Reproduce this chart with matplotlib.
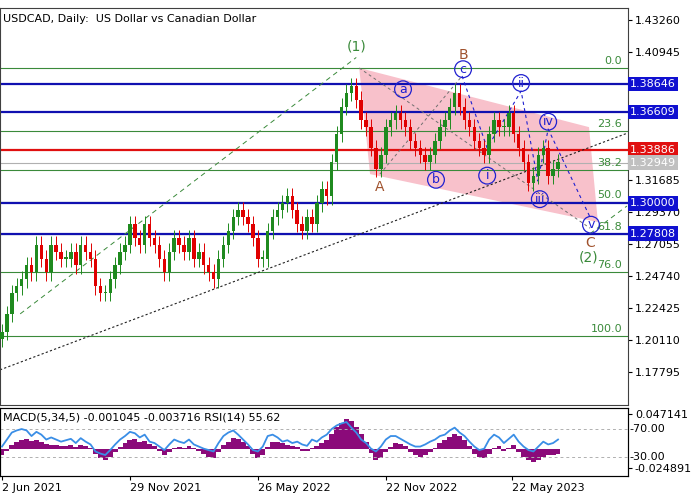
import matplotlib
matplotlib.use("Agg")
import matplotlib.pyplot as plt
from matplotlib.patches import Polygon

plt.rcParams.update({"font.family": "DejaVu Sans", "font.size": 8})

# weekly closes, Jun 2021 .. Jul 2023
closes = [1.207, 1.22, 1.235, 1.24, 1.245, 1.255, 1.25, 1.27, 1.26, 1.25,
          1.27, 1.265, 1.26, 1.26, 1.265, 1.255, 1.27, 1.265, 1.26, 1.24,
          1.235, 1.235, 1.245, 1.255, 1.265, 1.27, 1.285, 1.275, 1.27, 1.285,
          1.275, 1.27, 1.26, 1.25, 1.265, 1.275, 1.27, 1.265, 1.275, 1.26,
          1.265, 1.255, 1.25, 1.245, 1.26, 1.27, 1.28, 1.29, 1.295, 1.29,
          1.285, 1.275, 1.26, 1.26, 1.28, 1.29, 1.295, 1.30, 1.305, 1.295,
          1.285, 1.28, 1.29, 1.285, 1.30, 1.31, 1.305, 1.33, 1.35, 1.37,
          1.38, 1.385, 1.375, 1.36, 1.355, 1.34, 1.325, 1.335, 1.355, 1.36,
          1.365, 1.36, 1.355, 1.345, 1.34, 1.335, 1.33, 1.335, 1.345, 1.355,
          1.36, 1.37, 1.38, 1.37, 1.36, 1.355, 1.345, 1.34, 1.335, 1.35,
          1.36, 1.355, 1.355, 1.365, 1.35, 1.34, 1.33, 1.315, 1.32, 1.335,
          1.34, 1.32, 1.325, 1.33]
macd = [-0.008, -0.003, 0.005, 0.01, 0.012, 0.013, 0.011, 0.012, 0.01, 0.007,
        0.006, 0.005, 0.004, 0.004, 0.005, 0.003, 0.006, 0.004, 0.001, -0.006,
        -0.012, -0.015, -0.01, -0.004, 0.003, 0.008, 0.012, 0.013, 0.009, 0.011,
        0.007, 0.004, -0.003, -0.008, -0.004, 0.002, 0.003, 0.002, 0.004, 0.002,
        -0.002, -0.006, -0.01, -0.012, -0.004, 0.005, 0.01, 0.015, 0.014, 0.01,
        0.004, -0.006, -0.012, -0.008, 0.003, 0.01, 0.01, 0.008, 0.006, 0.004,
        0.003, -0.002, -0.003, 0.002, 0.004, 0.008, 0.012, 0.02, 0.03, 0.035,
        0.04, 0.038, 0.03, 0.02, 0.01, -0.005, -0.015, -0.012, -0.004, 0.003,
        0.008, 0.007, 0.004, -0.004, -0.008, -0.01, -0.008, -0.004, 0.002, 0.008,
        0.012, 0.016, 0.02, 0.018, 0.012, 0.004, -0.006, -0.01, -0.012, -0.006,
        0.002, 0.004, -0.003, 0.002, 0.005, -0.004, -0.01, -0.014, -0.017, -0.014,
        -0.01, -0.008, -0.008, -0.006]
rsi = [45, 55, 65, 68, 70, 68, 60, 66, 62, 55,
       58, 55, 52, 54, 56, 50, 57, 52, 48, 38,
       35, 33, 40, 48, 55, 60, 66, 64, 58, 62,
       52, 50, 45, 40, 48, 55, 52, 50, 55, 48,
       45, 42, 40, 38, 50, 60, 65, 68, 62, 55,
       48, 40, 38, 45, 60, 62, 58, 52, 54, 50,
       52, 48, 46, 55, 52, 58, 62, 70, 75, 78,
       80, 72, 65, 55, 50, 42, 38, 45, 55, 60,
       60, 56, 52, 48, 45, 45, 48, 52, 55, 60,
       62, 68, 72, 65, 60, 52, 45, 40, 42, 55,
       62, 58, 50, 56, 62, 52, 45, 40, 38, 45,
       52, 48, 50, 55]

date_labels = ["2 Jun 2021", "29 Nov 2021", "26 May 2022", "22 Nov 2022", "22 May 2023"]
date_pos = [0, 26, 52, 78, 103.6]
price_ticks = [1.43260, 1.40945, 1.38630, 1.36315, 1.34000, 1.31685, 1.29370,
               1.27055, 1.24740, 1.22425, 1.20110, 1.17795]
hidden_ticks = [1.38630, 1.36315, 1.34000]  # covered by level tags
blue_levels = [1.38646, 1.36609, 1.30000, 1.27808]
red_level = 1.33886
last_price = 1.32949
fib_labels = ["0.0", "23.6", "38.2", "50.0", "61.8", "76.0", "100.0"]
fib_ratios = [0.0, 0.236, 0.382, 0.5, 0.618, 0.76, 1.0]
fib_high, fib_low = 1.3979, 1.2040

# wave labels: (text, week, price, colour, circled)
waves = [("(1)", 72, 1.4131, "#3a8a3a", False), ("B", 93.7, 1.4073, "#a0522d", False),
         ("A", 76.8, 1.3118, "#a0522d", False), ("C", 119.5, 1.2713, "#a0522d", False),
         ("(2)", 119.3, 1.2610, "#3a8a3a", False),
         ("a", 81.5, 1.3825, "#2020d0", True), ("c", 93.7, 1.3970, "#2020d0", True),
         ("b", 88.2, 1.3170, "#2020d0", True), ("i", 98.6, 1.3200, "#2020d0", True),
         ("ii", 105.5, 1.3870, "#2020d0", True), ("iv", 111, 1.3590, "#2020d0", True),
         ("iii", 109.3, 1.3030, "#2020d0", True), ("v", 119.7, 1.2845, "#2020d0", True)]
channel = [(72.6, 1.3979), (119.3, 1.3551), (121.1, 1.2864), (74.8, 1.3211)]
blue_path_w = [93.5, 98.6, 105.5, 108.9, 111, 119.5]
blue_path_p = [1.3921, 1.3400, 1.3812, 1.3161, 1.3537, 1.2900]

GREEN, RED = "#1f8a1f", "#e00000"

fig = plt.figure(figsize=(7, 5), dpi=100, facecolor="white")
ax = fig.add_axes([0.0, 0.19, 0.897, 0.794])
axi = fig.add_axes([0.0, 0.048, 0.897, 0.136])
for a in (ax, axi):
    a.set_facecolor("white")
    for s in a.spines.values():
        s.set_color("#404040")
        s.set_linewidth(0.8)

# fib + levels
for lab, r in zip(fib_labels, fib_ratios):
    p = fib_high - r * (fib_high - fib_low)
    ax.axhline(p, color="#3a8a3a", lw=0.8)
    ax.text(126, p + 0.0015, lab, color="#3a8a3a", ha="right", va="bottom", fontsize=8)
ax.add_patch(Polygon(channel, closed=True, facecolor="#f7b6c2", edgecolor="none", alpha=0.85, zorder=1))
for p in blue_levels:
    ax.axhline(p, color="#1010b0", lw=1.6, zorder=2)
ax.axhline(red_level, color="#e01010", lw=1.6, zorder=2)
ax.axhline(last_price, color="#b0b0b0", lw=0.8, zorder=2)

# trend lines
ax.plot([-0.4, 127.2], [1.1795, 1.3509], color="#202020", ls=(0, (2, 2)), lw=0.8, zorder=2)
ax.plot([3.7, 72], [1.2200, 1.4055], color="#3a8a3a", ls=(0, (5, 4)), lw=0.7, zorder=2)
ax.plot([119.5, 127], [1.2780, 1.2980], color="#3a8a3a", ls=(0, (5, 4)), lw=0.7, zorder=2)
ax.plot([72.6, 119.5], [1.3979, 1.2820], color="#707070", ls=(0, (3, 3)), lw=0.7, zorder=2)
ax.plot([76.8, 93.5], [1.3211, 1.3921], color="#707070", ls=(0, (3, 3)), lw=0.7, zorder=2)
ax.plot(blue_path_w, blue_path_p, color="#2020d0", ls=(0, (3, 3)), lw=0.8, zorder=2)

# candles
for i, c in enumerate(closes):
    o = closes[i - 1] if i else c - 0.005
    col = GREEN if c >= o else RED
    hi, lo = max(o, c) + 0.006, min(o, c) - 0.006
    ax.vlines(i, lo, hi, color=col, lw=0.7, zorder=3)
    ax.bar(i, max(abs(c - o), 0.0008), bottom=min(o, c), width=0.7, color=col, zorder=3)

for txt, w, p, col, circ in waves:
    kw = dict(boxstyle="circle,pad=0.15", fc="none", ec=col, lw=0.9) if circ else None
    ax.text(w, p, txt, color=col, ha="center", va="center", fontsize=9 if circ else 10,
            bbox=kw, zorder=5)

ax.set_xlim(-0.4, 127.2)
ax.set_ylim(1.15408, 1.44128)
ax.set_xticks([])
ax.yaxis.tick_right()
ax.set_yticks(price_ticks)
ax.set_yticklabels(["" if t in hidden_ticks else f"{t:.5f}" for t in price_ticks])
ax.tick_params(axis="y", length=3, pad=2, labelsize=8)

def tag(p, fc, tc="white"):
    ax.text(1.003, p, f"{p:.5f}", transform=ax.get_yaxis_transform(), ha="left", va="center",
            fontsize=8, color=tc, bbox=dict(boxstyle="square,pad=0.2", fc=fc, ec="none"), zorder=6)
for p in blue_levels:
    tag(p, "#1010d0")
tag(red_level, "#e01010")
tag(last_price, "#c0c0c0")
ax.text(0.005, 0.985, "USDCAD, Daily:  US Dollar vs Canadian Dollar", transform=ax.transAxes,
        ha="left", va="top", fontsize=8)

# indicator panel
idx = list(range(len(macd)))
axi.bar(idx, macd, width=1.0, color="#8b0a7a", zorder=2)
axi.set_ylim(-0.036, 0.055)
axi.set_xlim(-0.4, 127.2)
axr = axi.twinx()
axr.plot(idx, rsi, color="#3a8ee6", lw=1.3, zorder=3)
axr.set_ylim(3, 100)
axr.axhline(70, color="#b0b0b0", ls=(0, (3, 3)), lw=0.7)
axr.axhline(30, color="#b0b0b0", ls=(0, (3, 3)), lw=0.7)
axr.set_yticks([])
axi.yaxis.tick_right()
axi.set_yticks([0.047141, -0.024891])
axi.set_yticklabels(["0.047141", "-0.024891"])
axi.tick_params(axis="y", length=3, pad=2, labelsize=8)
for v, lab in ((70, "70.00"), (30, "30.00")):
    axr.text(1.003, v, "-" + lab, transform=axr.get_yaxis_transform(), ha="left", va="center", fontsize=8)
axi.set_xticks(date_pos)
axi.set_xticklabels(date_labels, ha="left")
axi.tick_params(axis="x", length=3, pad=2, labelsize=8)
axi.text(0.005, 0.93, "MACD(5,34,5) -0.001045 -0.003716 RSI(14) 55.62", transform=axi.transAxes,
         ha="left", va="top", fontsize=8, zorder=6)

fig.savefig("out.png", dpi=100, facecolor="white")
